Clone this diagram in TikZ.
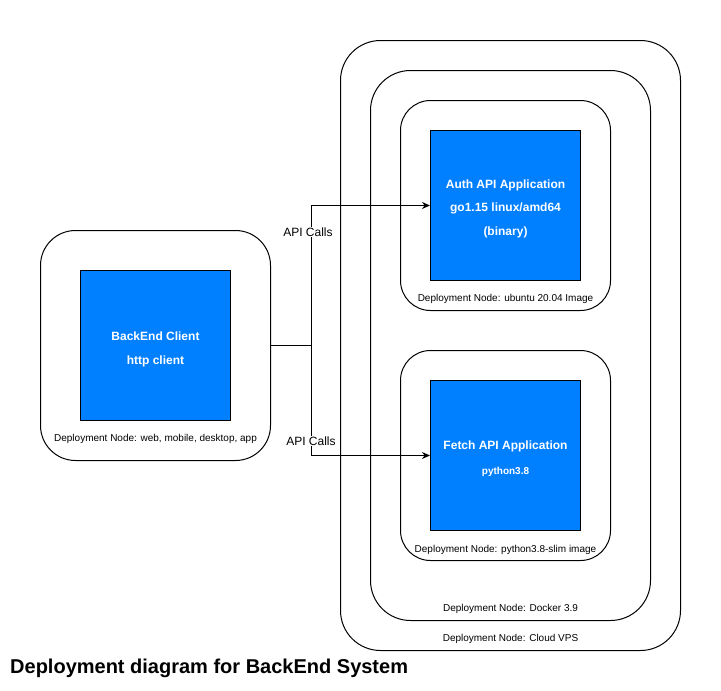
\documentclass[tikz,border=0pt]{standalone}
\usepackage{fontspec}
\setmainfont{Liberation Sans}
\usetikzlibrary{arrows.meta}
\definecolor{appblue}{HTML}{007FFF}

\tikzset{
  depnode/.style={draw, line width=1pt, rounded corners=#1, anchor=north west, inner sep=0pt},
  appbox/.style={draw, line width=1pt, fill=appblue, anchor=north west, minimum width=150pt, minimum height=150pt},
  apptext/.style={text=white, inner sep=0pt, font=\bfseries\fontsize{12}{14}\selectfont},
  deplabel/.style={font=\fontsize{10}{12}\selectfont, inner sep=0pt},
  calllabel/.style={font=\fontsize{12}{14}\selectfont, fill=white, inner sep=1pt},
  conn/.style={line width=1pt, -{Stealth[length=8pt,width=7pt]}}
}

\begin{document}
\begin{tikzpicture}[x=1pt, y=-1pt]
	\useasboundingbox (0,0) rectangle (721,691);

	% deployment nodes
	\node[depnode=40, minimum width=340pt, minimum height=610pt] (vps) at (340,40) {};
	\node[depnode=40, minimum width=280pt, minimum height=550pt] (docker) at (370,70) {};
	\node[depnode=30, minimum width=210pt, minimum height=210pt] (ubuntu) at (400,100) {};
	\node[depnode=30, minimum width=210pt, minimum height=210pt] (pyimage) at (400,350) {};
	\node[depnode=35, minimum width=230pt, minimum height=230pt] (device) at (40,230) {};

	% applications
	\node[appbox] (client) at (80,270) {};
	\node[appbox] (auth) at (430,130) {};
	\node[appbox] (fetch) at (430,380) {};

	\node[apptext] at ([yshift=-66pt]client.north) {BackEnd Client};
	\node[apptext] at ([yshift=-91pt]client.north) {http client};
	\node[apptext] at ([yshift=-55pt]auth.north) {Auth API Application};
	\node[apptext] at ([yshift=-78pt]auth.north) {go1.15 linux/amd64};
	\node[apptext] at ([yshift=-102pt]auth.north) {(binary)};
	\node[apptext] at ([yshift=-66pt]fetch.north) {Fetch API Application};
	\node[apptext, font=\bfseries\fontsize{10}{12}\selectfont] at ([yshift=-92pt]fetch.north) {python3.8};

	% node labels
	\node[deplabel] at ([yshift=12pt]vps.south) {Deployment Node: Cloud VPS};
	\node[deplabel] at ([yshift=12pt]docker.south) {Deployment Node: Docker 3.9};
	\node[deplabel] at ([yshift=12pt]ubuntu.south) {Deployment Node: ubuntu 20.04 Image};
	\node[deplabel] at ([yshift=11pt]pyimage.south) {Deployment Node: python3.8-slim image};
	\node[deplabel] at ([yshift=22pt]device.south) {Deployment Node: web, mobile, desktop, app};

	% connectors
	\coordinate (split) at ([xshift=40pt]device.east);
	\draw[line width=1pt] (device.east) -- (split);
	\draw[conn] (split) |- (auth.west);
	\draw[conn] (split) |- (fetch.west);
	\node[calllabel] at (308,232) {API Calls};
	\node[calllabel] at (311,441) {API Calls};

	% title
	\node[anchor=west, inner sep=0pt, font=\bfseries\fontsize{20}{22}\selectfont] (title) at (10,668) {Deployment diagram for BackEnd System};
\end{tikzpicture}
\end{document}
